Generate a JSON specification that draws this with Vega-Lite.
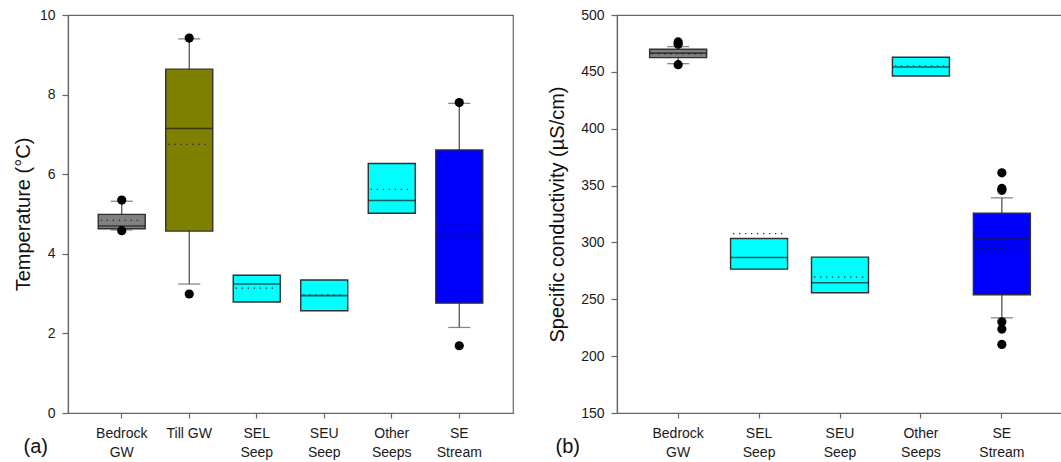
{
  "$schema": "https://vega.github.io/schema/vega-lite/v6.json",
  "background": "white",
  "padding": {"left": 12, "top": 7, "right": 0, "bottom": 0},
  "spacing": 33,
  "config": {
    "font": "Liberation Sans",
    "view": {"stroke": "#666666", "strokeWidth": 1.2},
    "axis": {
      "grid": false,
      "domainColor": "#666666",
      "domainWidth": 1.2,
      "tickColor": "#666666",
      "tickWidth": 1.2,
      "labelFont": "Liberation Sans",
      "labelFontSize": 14,
      "labelColor": "#1a1a1a",
      "titleFont": "Liberation Sans",
      "titleFontSize": 20,
      "titleFontWeight": "normal",
      "titleColor": "#111111"
    }
  },
  "datasets": {
    "tempBox": [
      {"group": "Bedrock GW", "q1": 4.63, "median": 4.70, "mean": 4.84, "q3": 4.99, "wlo": 4.60, "whi": 5.32},
      {"group": "Till GW", "q1": 4.57, "median": 7.15, "mean": 6.75, "q3": 8.64, "wlo": 3.24, "whi": 9.40},
      {"group": "SEL Seep", "q1": 2.79, "median": 3.24, "mean": 3.14, "q3": 3.46, "wlo": null, "whi": null},
      {"group": "SEU Seep", "q1": 2.57, "median": 2.95, "mean": 2.97, "q3": 3.34, "wlo": null, "whi": null},
      {"group": "Other Seeps", "q1": 5.02, "median": 5.34, "mean": 5.62, "q3": 6.27, "wlo": null, "whi": null},
      {"group": "SE Stream", "q1": 2.76, "median": 4.46, "mean": 4.75, "q3": 6.61, "wlo": 2.15, "whi": 7.78}
    ],
    "tempOut": [
      {"group": "Bedrock GW", "value": 5.35},
      {"group": "Bedrock GW", "value": 4.58},
      {"group": "Till GW", "value": 9.42},
      {"group": "Till GW", "value": 2.99},
      {"group": "SE Stream", "value": 7.80},
      {"group": "SE Stream", "value": 1.69}
    ],
    "condBox": [
      {"group": "Bedrock GW", "q1": 462.5, "median": 466.5, "mean": 465.8, "q3": 469.9, "wlo": 457.2, "whi": 472.2},
      {"group": "SEL Seep", "q1": 276.5, "median": 286.7, "mean": 307.8, "q3": 303.4, "wlo": null, "whi": null},
      {"group": "SEU Seep", "q1": 255.7, "median": 264.5, "mean": 269.5, "q3": 287.1, "wlo": null, "whi": null},
      {"group": "Other Seeps", "q1": 446.4, "median": 454.3, "mean": 455.2, "q3": 462.8, "wlo": null, "whi": null},
      {"group": "SE Stream", "q1": 254.0, "median": 304.0, "mean": 295.0, "q3": 325.7, "wlo": 233.7, "whi": 339.2}
    ],
    "condOut": [
      {"group": "Bedrock GW", "value": 476.3},
      {"group": "Bedrock GW", "value": 474.3},
      {"group": "Bedrock GW", "value": 456.3},
      {"group": "SE Stream", "value": 361.2},
      {"group": "SE Stream", "value": 347.5},
      {"group": "SE Stream", "value": 345.8},
      {"group": "SE Stream", "value": 230.2},
      {"group": "SE Stream", "value": 223.8},
      {"group": "SE Stream", "value": 210.3}
    ]
  },
  "hconcat": [
    {
      "width": 445,
      "height": 398,
      "encoding": {
        "x": {
          "field": "group",
          "type": "nominal",
          "scale": {"domain": ["Bedrock GW", "Till GW", "SEL Seep", "SEU Seep", "Other Seeps", "SE Stream"], "paddingInner": 0, "paddingOuter": 0.296},
          "axis": {
            "title": "(a)",
            "titleX": -45,
            "titleY": 33,
            "titleAlign": "left",
            "titleBaseline": "middle",
            "labelAngle": 0,
            "labelExpr": "datum.label == 'Till GW' ? datum.label : split(datum.label, ' ')",
            "labelLineHeight": 19,
            "labelPadding": 8,
            "tickSize": 5
          }
        }
      },
      "layer": [
        {
          "data": {"name": "tempBox"},
          "mark": {"type": "rule", "color": "#555555", "strokeWidth": 1.3},
          "encoding": {
            "y": {"field": "wlo", "type": "quantitative", "scale": {"domain": [0, 10], "nice": false, "zero": false},
              "axis": {"title": "Temperature (°C)", "values": [0, 2, 4, 6, 8, 10], "tickSize": 6, "labelPadding": 7, "titlePadding": 6}},
            "y2": {"field": "whi"}
          }
        },
        {
          "data": {"name": "tempBox"},
          "mark": {"type": "bar", "width": 47, "stroke": "#303030", "strokeWidth": 1.4},
          "encoding": {
            "y": {"field": "q1", "type": "quantitative"},
            "y2": {"field": "q3"},
            "color": {"field": "group", "type": "nominal", "legend": null,
              "scale": {"domain": ["Bedrock GW", "Till GW", "SEL Seep", "SEU Seep", "Other Seeps", "SE Stream"], "range": ["#808080", "#808000", "#00FFFF", "#00FFFF", "#00FFFF", "#0000FF"]}}
          }
        },
        {
          "data": {"name": "tempBox"},
          "mark": {"type": "tick", "size": 47, "thickness": 1.6, "color": "#1a1a1a"},
          "encoding": {"y": {"field": "median", "type": "quantitative"}}
        },
        {
          "data": {"name": "tempBox"},
          "mark": {"type": "rule", "color": "#222222", "strokeWidth": 1.2, "strokeDash": [1.2, 4.8], "xOffset": -21, "x2Offset": 21},
          "encoding": {"x2": {"field": "group"}, "y": {"field": "mean", "type": "quantitative"}}
        },
        {
          "data": {"name": "tempBox"},
          "mark": {"type": "tick", "size": 22, "thickness": 1.3, "color": "#555555"},
          "encoding": {"y": {"field": "whi", "type": "quantitative"}}
        },
        {
          "data": {"name": "tempBox"},
          "mark": {"type": "tick", "size": 22, "thickness": 1.3, "color": "#555555"},
          "encoding": {"y": {"field": "wlo", "type": "quantitative"}}
        },
        {
          "data": {"name": "tempOut"},
          "mark": {"type": "circle", "size": 85, "color": "black", "opacity": 1},
          "encoding": {"y": {"field": "value", "type": "quantitative"}}
        }
      ]
    },
    {
      "width": 446,
      "height": 398,
      "encoding": {
        "x": {
          "field": "group",
          "type": "nominal",
          "scale": {"domain": ["Bedrock GW", "SEL Seep", "SEU Seep", "Other Seeps", "SE Stream"], "paddingInner": 0, "paddingOuter": 0.2555},
          "axis": {
            "title": "(b)",
            "titleX": -62,
            "titleY": 33,
            "titleAlign": "left",
            "titleBaseline": "middle",
            "labelAngle": 0,
            "labelExpr": "split(datum.label, ' ')",
            "labelLineHeight": 19,
            "labelPadding": 8,
            "tickSize": 5
          }
        }
      },
      "layer": [
        {
          "data": {"name": "condBox"},
          "mark": {"type": "rule", "color": "#555555", "strokeWidth": 1.3},
          "encoding": {
            "y": {"field": "wlo", "type": "quantitative", "scale": {"domain": [150, 500], "nice": false, "zero": false},
              "axis": {"title": "Specific conductivity (µS/cm)", "values": [150, 200, 250, 300, 350, 400, 450, 500], "tickSize": 6, "labelPadding": 7, "titlePadding": 13}},
            "y2": {"field": "whi"}
          }
        },
        {
          "data": {"name": "condBox"},
          "mark": {"type": "bar", "width": 57, "stroke": "#303030", "strokeWidth": 1.4},
          "encoding": {
            "y": {"field": "q1", "type": "quantitative"},
            "y2": {"field": "q3"},
            "color": {"field": "group", "type": "nominal", "legend": null,
              "scale": {"domain": ["Bedrock GW", "Till GW", "SEL Seep", "SEU Seep", "Other Seeps", "SE Stream"], "range": ["#808080", "#808000", "#00FFFF", "#00FFFF", "#00FFFF", "#0000FF"]}}
          }
        },
        {
          "data": {"name": "condBox"},
          "mark": {"type": "tick", "size": 57, "thickness": 1.6, "color": "#1a1a1a"},
          "encoding": {"y": {"field": "median", "type": "quantitative"}}
        },
        {
          "data": {"name": "condBox"},
          "mark": {"type": "rule", "color": "#222222", "strokeWidth": 1.2, "strokeDash": [1.2, 4.8], "xOffset": -26, "x2Offset": 26},
          "encoding": {"x2": {"field": "group"}, "y": {"field": "mean", "type": "quantitative"}}
        },
        {
          "data": {"name": "condBox"},
          "mark": {"type": "tick", "size": 22, "thickness": 1.3, "color": "#555555"},
          "encoding": {"y": {"field": "whi", "type": "quantitative"}}
        },
        {
          "data": {"name": "condBox"},
          "mark": {"type": "tick", "size": 22, "thickness": 1.3, "color": "#555555"},
          "encoding": {"y": {"field": "wlo", "type": "quantitative"}}
        },
        {
          "data": {"name": "condOut"},
          "mark": {"type": "circle", "size": 85, "color": "black", "opacity": 1},
          "encoding": {"y": {"field": "value", "type": "quantitative"}}
        }
      ]
    }
  ]
}
